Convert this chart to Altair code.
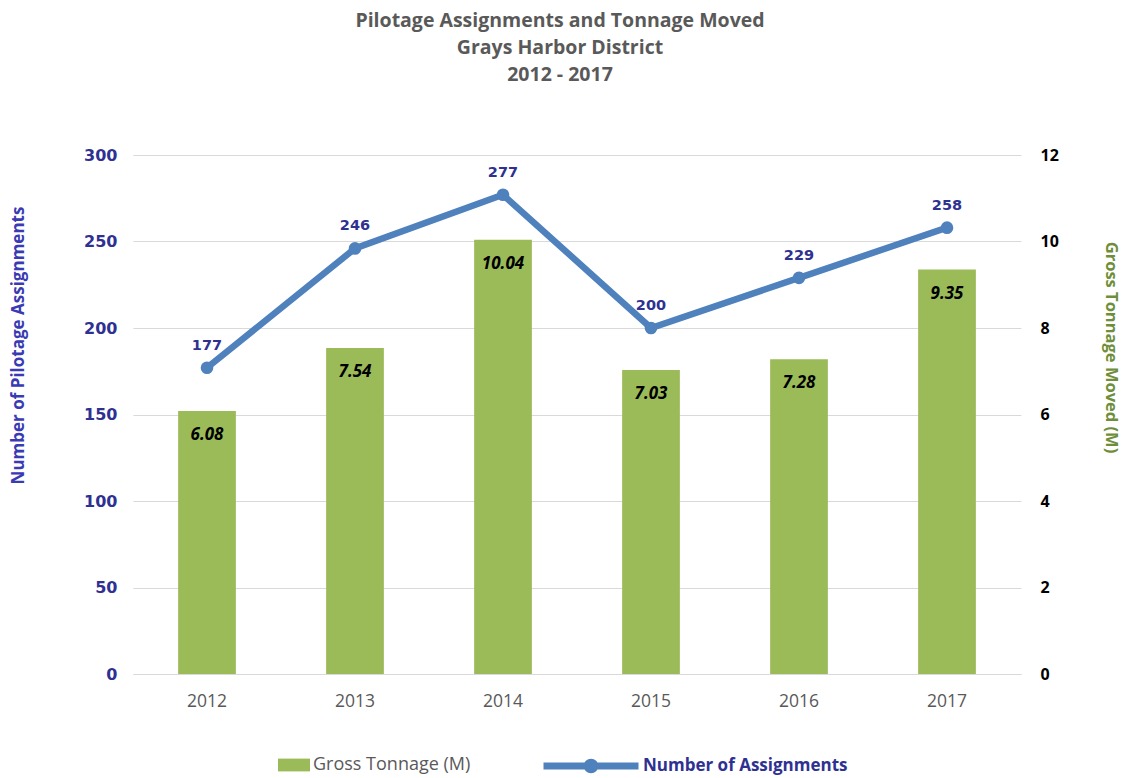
import altair as alt
import pandas as pd

years = ["2012", "2013", "2014", "2015", "2016", "2017"]
tonnage = [6.08, 7.54, 10.04, 7.03, 7.28, 9.35]
assignments = [177, 246, 277, 200, 229, 258]

df = pd.DataFrame({
    "Year": years,
    "Tonnage": tonnage,
    "Assignments": assignments,
    "TonSeries": ["Gross Tonnage (M)"] * len(years),
    "AsgSeries": ["Number of Assignments"] * len(years),
})

GREEN = "#9BBB59"
BLUE = "#4F81BD"
NAVY = "#2E3192"
GRAY = "#595959"

x = alt.X(
    "Year:N",
    scale=alt.Scale(paddingInner=0.61, paddingOuter=0.305),
    axis=alt.Axis(title=None, labelAngle=0, ticks=False, domainColor="#D9D9D9",
                  labelColor=GRAY, labelFont="Open Sans", labelFontSize=17.5,
                  labelPadding=18),
)

base = alt.Chart(df)

y_right = alt.Y(
    "Tonnage:Q",
    scale=alt.Scale(domain=[0, 12]),
    axis=alt.Axis(orient="right", values=[0, 2, 4, 6, 8, 10, 12], grid=False,
                  domain=False, ticks=False, labelColor="#000000",
                  labelFont="Open Sans", labelFontWeight="bold", labelFontSize=16,
                  labelPadding=19, title="Gross Tonnage Moved (M)",
                  titleColor="#6E8E3A", titleFont="Open Sans", titleFontWeight="bold",
                  titleFontSize=16.5, titleAngle=90, titleX=89, titleY=192,
                  titleAlign="center", titleBaseline="middle"),
)

y_left = alt.Y(
    "Assignments:Q",
    scale=alt.Scale(domain=[0, 300]),
    axis=alt.Axis(orient="left", values=[0, 50, 100, 150, 200, 250, 300], grid=True,
                  gridColor="#D9D9D9", gridWidth=1.2, domain=False, ticks=False,
                  labelColor=NAVY, labelFont="DejaVu Sans", labelFontWeight="bold",
                  labelFontSize=16, labelPadding=16,
                  title="Number of Pilotage Assignments", titleColor="#3A3AB4",
                  titleFont="Open Sans", titleFontWeight="bold", titleFontSize=17,
                  titleAngle=270, titleX=-115, titleY=190, titleAlign="center",
                  titleBaseline="middle"),
)

bars = base.mark_bar(color=GREEN).encode(
    x=x,
    y=y_right,
    fill=alt.Fill("TonSeries:N", scale=alt.Scale(range=[GREEN]),
                  legend=alt.Legend(title=None, orient="none", legendX=145, legendY=594,
                                    symbolType="M-1,-0.4L1,-0.4L1,0.4L-1,0.4Z",
                                    symbolSize=1024, symbolStrokeWidth=0,
                                    labelFont="Open Sans", labelFontSize=18,
                                    labelColor=GRAY, labelOffset=3, labelLimit=400)),
)

bar_text = base.mark_text(dy=24, font="Open Sans", fontStyle="italic",
                          fontWeight="bold", fontSize=17, color="#000000").encode(
    x=x,
    y=alt.Y("Tonnage:Q", scale=alt.Scale(domain=[0, 12]), axis=None),
    text=alt.Text("Tonnage:Q", format=".2f"),
)

line = base.mark_line(strokeWidth=6.5, color=BLUE).encode(
    x=x,
    y=y_left,
    stroke=alt.Stroke("AsgSeries:N", scale=alt.Scale(range=[BLUE]),
                      legend=alt.Legend(title=None, orient="none", legendX=407, legendY=560,
                                        symbolType="M-1,0L1,0M0.08,0A0.08,0.08,0,1,1,-0.08,0A0.08,0.08,0,1,1,0.08,0Z",
                                        symbolSize=9025, symbolStrokeWidth=7,
                                        symbolFillColor=BLUE,
                                        labelFont="Open Sans", labelFontWeight="bold",
                                        labelFontSize=17, labelColor=NAVY, labelOffset=1,
                                        labelLimit=400)),
)

points = base.mark_point(filled=True, size=160, color=BLUE, opacity=1).encode(
    x=x,
    y=alt.Y("Assignments:Q", scale=alt.Scale(domain=[0, 300]), axis=None),
)

line_text = base.mark_text(dy=-22, font="DejaVu Sans", fontWeight="bold",
                           fontSize=14.5, color=NAVY).encode(
    x=x,
    y=alt.Y("Assignments:Q", scale=alt.Scale(domain=[0, 300]), axis=None),
    text=alt.Text("Assignments:Q"),
)

chart = alt.layer(line, points, line_text, bars, bar_text).resolve_scale(
    y="independent", fill="independent", stroke="independent"
).resolve_axis(y="independent").properties(
    width=888,
    height=519,
    padding={"left": 133, "top": 155, "right": 104, "bottom": 104},
    autosize=alt.AutoSizeParams(type="none"),
    background="white",
    title=alt.TitleParams(
        text=["Pilotage Assignments and Tonnage Moved", "Grays Harbor District", "2012 - 2017"],
        font="Open Sans", fontSize=19.5, fontWeight="bold", color=GRAY,
        anchor="middle", offset=62, dx=-17, lineHeight=27,
    ),
).configure_view(stroke=None)

chart.save("out.html", embed_options={"renderer": "svg", "actions": False})
